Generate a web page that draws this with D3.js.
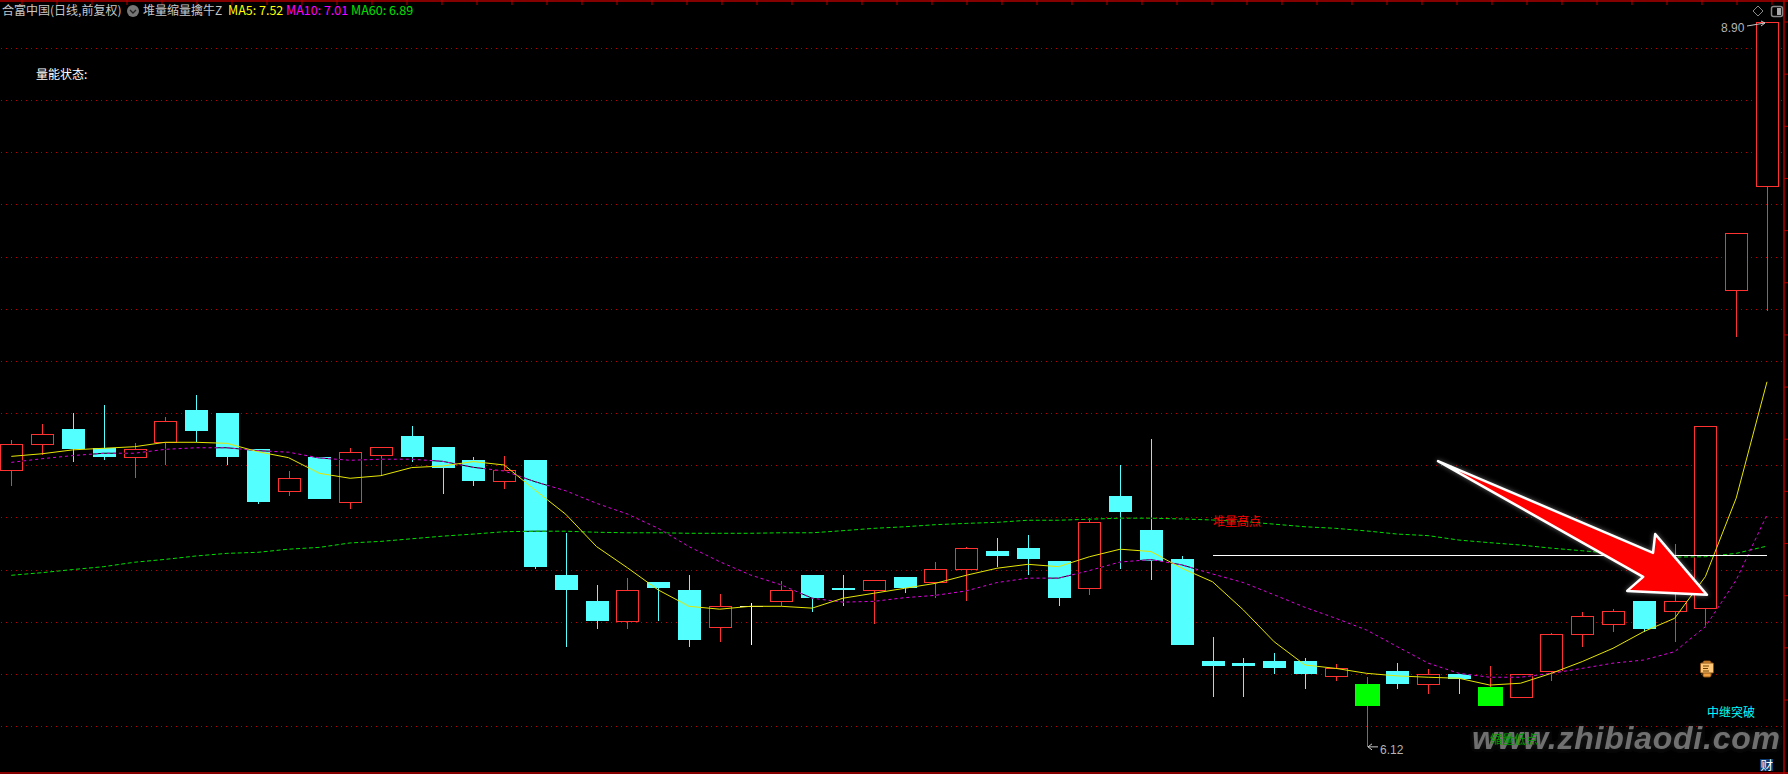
<!DOCTYPE html>
<html><head><meta charset="utf-8">
<script src="https://cdnjs.cloudflare.com/ajax/libs/d3/7.8.5/d3.min.js"></script>
<style>
html,body{margin:0;padding:0;background:#000;overflow:hidden}
svg{display:block}
text{font-family:"Noto Sans CJK SC","Noto Sans",sans-serif}
</style></head><body>
<svg id="c" width="1788" height="774"></svg>
<script>
const opens=[7.179,7.279,7.339,7.265,7.229,7.287,7.412,7.400,7.262,7.099,7.232,7.056,7.237,7.312,7.270,7.220,7.137,7.220,6.779,6.679,6.600,6.752,6.722,6.577,6.658,6.677,6.779,6.729,6.718,6.772,6.750,6.800,6.871,6.883,6.833,6.727,7.082,6.952,6.841,6.449,6.442,6.449,6.449,6.389,6.361,6.411,6.359,6.400,6.350,6.309,6.408,6.550,6.589,6.679,6.638,6.650,7.869,8.268];
const closes=[7.280,7.319,7.262,7.232,7.261,7.369,7.331,7.232,7.059,7.150,7.071,7.250,7.269,7.232,7.189,7.140,7.181,6.810,6.722,6.603,6.721,6.729,6.530,6.659,6.658,6.721,6.691,6.722,6.759,6.729,6.801,6.882,6.852,6.841,6.691,6.981,7.021,6.833,6.511,6.430,6.430,6.423,6.400,6.420,6.277,6.361,6.398,6.380,6.277,6.398,6.552,6.621,6.640,6.572,6.678,7.349,8.089,8.898];
const highs=[7.297,7.358,7.400,7.431,7.284,7.385,7.469,7.400,7.262,7.178,7.232,7.266,7.269,7.351,7.270,7.232,7.235,7.220,6.940,6.741,6.768,6.752,6.779,6.706,6.672,6.756,6.779,6.779,6.760,6.772,6.829,6.887,6.921,6.933,6.833,6.998,7.201,7.301,6.852,6.541,6.461,6.480,6.461,6.438,6.388,6.442,6.419,6.400,6.430,6.398,6.557,6.637,6.649,6.679,6.898,7.351,8.091,8.900];
const lows=[7.120,7.239,7.212,7.220,7.152,7.201,7.288,7.201,7.052,7.082,7.071,7.032,7.159,7.212,7.090,7.120,7.109,6.802,6.503,6.572,6.572,6.603,6.503,6.522,6.511,6.660,6.637,6.660,6.591,6.710,6.691,6.679,6.810,6.779,6.660,6.702,6.802,6.760,6.511,6.311,6.311,6.400,6.342,6.373,6.120,6.342,6.323,6.323,6.277,6.309,6.373,6.503,6.561,6.561,6.522,6.584,7.692,7.791];
const ma5=[7.234,7.244,7.259,7.265,7.271,7.288,7.288,7.284,7.252,7.229,7.169,7.150,7.160,7.191,7.197,7.214,7.201,7.105,7.012,6.888,6.807,6.722,6.659,6.648,6.659,6.659,6.652,6.690,6.709,6.728,6.747,6.778,6.805,6.820,6.811,6.849,6.878,6.869,6.805,6.753,6.645,6.523,6.434,6.421,6.402,6.392,6.387,6.383,6.357,6.364,6.402,6.447,6.498,6.562,6.613,6.773,7.074,7.52];
const ma10=[7.211,7.225,7.237,7.246,7.246,7.261,7.267,7.267,7.256,7.250,7.228,7.219,7.223,7.223,7.215,7.192,7.178,7.137,7.102,7.054,7.013,6.958,6.888,6.830,6.779,6.741,6.690,6.675,6.678,6.692,6.701,6.718,6.750,6.767,6.767,6.796,6.829,6.838,6.818,6.783,6.750,6.703,6.655,6.613,6.568,6.504,6.441,6.402,6.387,6.387,6.402,6.421,6.441,6.453,6.485,6.581,6.760,7.01];
const ma60=[6.778,6.788,6.800,6.811,6.828,6.839,6.852,6.862,6.866,6.878,6.885,6.902,6.908,6.918,6.928,6.936,6.945,6.947,6.947,6.943,6.941,6.941,6.939,6.939,6.939,6.941,6.941,6.949,6.958,6.964,6.972,6.977,6.981,6.989,6.989,6.993,6.997,6.997,6.994,6.990,6.984,6.974,6.964,6.958,6.948,6.936,6.930,6.913,6.903,6.894,6.882,6.872,6.862,6.853,6.848,6.849,6.862,6.89];
const greenBars=[44,48];
const gridPrices=d3.range(14).map(i=>8.8-i*0.2);
const levelLine=[[39,6.852],[57,6.852]];
const arrowPts=[[46.32,7.216],[53.30,6.864],[53.37,6.936],[55.05,6.703],[52.46,6.718],[52.98,6.772]];
const legend=[
 {t:"合富中国(日线,前复权)",x:2,c:"#c8c8c8",fs:12},
 {t:"堆量缩量擒牛Z",x:143,c:"#c8c8c8",fs:12},
 {t:"MA5: 7.52",x:228,c:"#ffff00",fs:12.5},
 {t:"MA10: 7.01",x:286,c:"#ff00ff",fs:12.5},
 {t:"MA60: 6.89",x:351,c:"#00e000",fs:12.5}];

const W=1788,H=774;
const svg=d3.select("#c");
svg.append("rect").attr("width",W).attr("height",H).attr("fill","#000");
const x=d3.scaleLinear().domain([0,57]).range([11.3,1767]);
const y=d3.scaleLinear().domain([8.8,6.2]).range([48,726]);
const RED="#ff3232",CYAN="#54ffff";
const defs=svg.append("defs");
const glow=defs.append("filter").attr("id","glow").attr("x","-20%").attr("y","-20%").attr("width","140%").attr("height","140%");
glow.append("feDropShadow").attr("dx",0).attr("dy",0).attr("stdDeviation",2.5).attr("flood-color","#fff").attr("flood-opacity",.4);
const wmf=defs.append("filter").attr("id","wm").attr("x","-5%").attr("y","-30%").attr("width","110%").attr("height","160%");
wmf.append("feDropShadow").attr("dx",0).attr("dy",0).attr("stdDeviation",3).attr("flood-color","#333").attr("flood-opacity",.7);

// frame
const fr=svg.append("g").attr("stroke","#b00000").attr("stroke-width",1.5);
fr.append("line").attr("x1",0).attr("x2",W).attr("y1",1).attr("y2",1);
fr.append("line").attr("x1",0).attr("x2",W).attr("y1",773).attr("y2",773);
fr.append("line").attr("x1",1784).attr("x2",1784).attr("y1",0).attr("y2",H);
d3.range(22,1788,35).forEach(v=>fr.append("line").attr("x1",v).attr("x2",v).attr("y1",0).attr("y2",5).attr("stroke-width",1));
gridPrices.forEach(p=>fr.append("line").attr("x1",1784).attr("x2",W).attr("y1",y(p)-26).attr("y2",y(p)-26).attr("stroke-width",1));

// grid
svg.append("g").selectAll("line").data(gridPrices).join("line")
 .attr("x1",1).attr("x2",1784).attr("y1",d=>Math.round(y(d))+.5).attr("y2",d=>Math.round(y(d))+.5)
 .attr("stroke","#c00000").attr("stroke-width",1).attr("stroke-dasharray","1 4").attr("shape-rendering","crispEdges");

// candles
const idx=d3.range(opens.length);
const g=svg.append("g").attr("shape-rendering","crispEdges");
idx.forEach(i=>{
 const o=opens[i],c=closes[i],h=highs[i],l=lows[i],cx=Math.round(x(i))+.5;
 const isGreen=greenBars.includes(i),up=c>o,doji=c===o;
 const col=isGreen?RED:doji?"#fff":up?RED:CYAN;
 g.append("line").attr("x1",cx).attr("x2",cx).attr("y1",y(h)).attr("y2",y(l)).attr("stroke",col).attr("stroke-width",1);
 const top=y(Math.max(o,c)),bot=y(Math.min(o,c));
 if(isGreen){
  g.append("rect").attr("x",cx-12.5).attr("width",25).attr("y",top).attr("height",bot-top).attr("fill","#00ff00");
 }else if(doji){
  g.append("line").attr("x1",cx-11.5).attr("x2",cx+11.5).attr("y1",top).attr("y2",top).attr("stroke","#fff");
 }else if(up){
  g.append("rect").attr("x",cx-11).attr("width",22).attr("y",top).attr("height",bot-top).attr("fill","#000").attr("stroke",RED).attr("stroke-width",1);
 }else{
  g.append("rect").attr("x",cx-11.5).attr("width",23).attr("y",top).attr("height",bot-top).attr("fill",CYAN);
 }
});

// moving averages
const line=d3.line().x((d,i)=>x(i)).y(d=>y(d));
const lg=svg.append("g").attr("fill","none");
lg.append("path").attr("d",line(ma60)).attr("stroke","#000").attr("stroke-width",1);
lg.append("path").attr("d",line(ma60)).attr("stroke","#00e000").attr("stroke-width",1).attr("stroke-dasharray","4 2.5");
lg.append("path").attr("d",line(ma10)).attr("stroke","#000").attr("stroke-width",1);
lg.append("path").attr("d",line(ma10)).attr("stroke","#e000e0").attr("stroke-width",1).attr("stroke-dasharray","3 3");
lg.append("path").attr("d",line(ma5)).attr("stroke","#e6e600").attr("stroke-width",1);

// level line
svg.append("line").attr("x1",x(levelLine[0][0])).attr("x2",x(levelLine[1][0])).attr("y1",y(levelLine[0][1])).attr("y2",y(levelLine[1][1])).attr("stroke","#fff").attr("stroke-width",1).attr("shape-rendering","crispEdges");

// texts
const T=(t,px,py,c,fs,a)=>svg.append("text").attr("x",px).attr("y",py).attr("fill",c).attr("font-size",fs||12).attr("text-anchor",a||"start").text(t);
legend.forEach(d=>T(d.t,d.x,15,d.c,d.fs));
const ci=svg.append("g");
ci.append("circle").attr("cx",133).attr("cy",11).attr("r",6).attr("fill","#777");
ci.append("path").attr("d","M130 10 l3 3 l3 -3").attr("fill","none").attr("stroke","#222").attr("stroke-width",1.3);
T("量能状态:",36,79,"#fff",12);
T("堆量高点",1213,526,"#ff0000",12);
T("中继突破",1707,717,"#00ffff",12);
T("6.12",1380,754,"#b4b4b4",12).style("font-family","'Liberation Sans',sans-serif");
T("8.90",1721,32,"#b4b4b4",12).style("font-family","'Liberation Sans',sans-serif");

// price flags
const fl=svg.append("g").attr("fill","none").attr("stroke","#c8c8c8").attr("stroke-width",1);
fl.append("path").attr("d",`M1378 ${y(6.12)} H1368 m4 -3 l-4 3 l4 3`);
fl.append("path").attr("d",`M1747 26 L1765 23 m-4 -2 l4 2 l-4 3`);

// watermark
svg.append("text").attr("x",1472).attr("y",749).attr("fill","#707070").attr("font-size",32).attr("font-weight","bold")
 .attr("font-style","italic").attr("textLength",308).attr("lengthAdjust","spacing").attr("filter","url(#wm)")
 .style("font-family","'Liberation Sans',sans-serif").text("www.zhibiaodi.com");
T("缩量低点",1490,744,"#00a000",12);

// arrow
svg.append("path").attr("d",d3.line().x(d=>x(d[0])).y(d=>y(d[1])).curve(d3.curveLinearClosed)(arrowPts))
 .attr("fill","#ff0000").attr("stroke","#fff").attr("stroke-width",2.5).attr("stroke-linejoin","round").attr("filter","url(#glow)");

// note icon
const n=svg.append("g");
n.append("rect").attr("x",1703).attr("y",661).attr("width",8).attr("height",16).attr("rx",1.5).attr("fill","#f0a040").attr("stroke","#8a5010");
n.append("rect").attr("x",1700.5).attr("y",663).attr("width",13).attr("height",10).attr("rx",1).attr("fill","#ffc878").attr("stroke","#8a5010");
n.append("path").attr("d","M1703 666 h6 M1703 668.5 h5 M1703 671 h6").attr("stroke","#704000").attr("fill","none");

// corner icons
const ic=svg.append("g").attr("fill","none").attr("stroke","#888");
ic.append("path").attr("d","M1758 6 l5 5 l-5 5 l-5 -5 z");
ic.append("rect").attr("x",1771.5).attr("y",6.5).attr("width",11).attr("height",10).attr("rx",2).attr("stroke-width",1.5);
ic.append("rect").attr("x",1777).attr("y",8).attr("width",4).attr("height",7).attr("fill","#aaa").attr("stroke","none");

// badge
svg.append("rect").attr("x",1760).attr("y",759).attr("width",13).attr("height",12).attr("fill","#0a3a70");
T("财",1760.5,769.5,"#fff",12.5);
</script>
</body></html>
